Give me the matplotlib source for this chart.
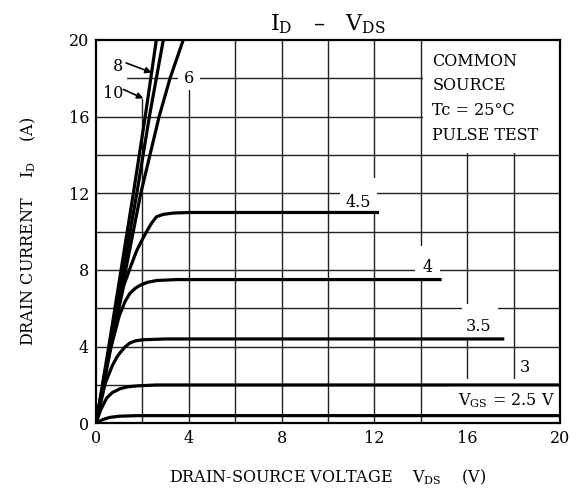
import matplotlib
matplotlib.use("Agg")
import matplotlib.pyplot as plt
from matplotlib.patches import Rectangle

plt.rcParams['font.family'] = ['DejaVu Serif']
plt.rcParams['mathtext.fontset'] = 'dejavuserif'

# I_D - V_DS curves (V_DS in V, I_D in A)
vds_10 = [0, 0.55, 1.08, 1.61, 2.12, 2.6, 2.75]
id_10 = [0, 4.0, 8.0, 12.0, 16.0, 20.0, 21.0]
vds_8 = [0, 0.6, 1.18, 1.76, 2.3, 2.9, 3.05]
id_8 = [0, 4.0, 8.0, 12.0, 16.0, 20.0, 21.0]
vds_6 = [0, 0.65, 1.28, 1.93, 2.72, 3.19, 3.76, 3.9]
id_6 = [0, 4.0, 8.0, 12.0, 16.0, 18.0, 20.0, 20.4]
vds_45 = [0, 0.6, 1.2, 1.5, 1.75, 2.0, 2.18, 2.4, 2.61, 2.9, 3.33, 4.05, 12.2]
id_45 = [0, 3.9, 7.2, 8.2, 9.0, 9.6, 10.0, 10.45, 10.78, 10.9, 10.97, 11.0, 11.0]
vds_4 = [0, 0.5, 1.0, 1.25, 1.46, 1.7, 1.9, 2.2, 2.61, 3.5, 14.9]
id_4 = [0, 3.3, 5.6, 6.35, 6.78, 7.05, 7.2, 7.35, 7.45, 7.5, 7.5]
vds_35 = [0, 0.4, 0.7, 0.9, 1.03, 1.25, 1.46, 1.7, 2.03, 3.0, 17.6]
id_35 = [0, 2.1, 3.0, 3.45, 3.67, 3.98, 4.19, 4.3, 4.36, 4.4, 4.4]
vds_3 = [0, 0.2, 0.46, 0.7, 1.03, 1.35, 1.75, 2.6, 20]
id_3 = [0, 0.7, 1.32, 1.6, 1.8, 1.9, 1.95, 2.0, 2.0]
vds_25 = [0, 0.3, 0.6, 1.0, 1.8, 20]
id_25 = [0, 0.2, 0.31, 0.37, 0.4, 0.4]

x_ticks = [0, 4, 8, 12, 16, 20]
y_ticks = [0, 4, 8, 12, 16, 20]
grid_pos = [2, 4, 6, 8, 10, 12, 14, 16, 18]

fig = plt.figure(figsize=(5.77, 4.93), dpi=100)
ax = fig.add_axes([0.1664, 0.1414, 0.8041, 0.7775])

for g in grid_pos:
    # the V=2 line stops under the "8"/"10" labels
    top = 16.9 / 20 if g == 2 else 1
    ax.axvline(g, ymax=top, color='#222222', lw=1.0, zorder=1)
    ax.axhline(g, color='#222222', lw=1.0, zorder=1)

# white areas where the grid is broken for the labels
gaps = [(14.08, 14.08, 5.92, 5.92), (0.05, 16.08, 1.29, 3.87),
        (3.53, 17.4, 0.95, 2.6), (10.5, 11.05, 1.6, 1.75),
        (13.75, 7.55, 1.08, 1.7), (15.76, 4.45, 1.58, 1.75),
        (15.2, 0.05, 4.75, 2.25)]
for x0, y0, w, h in gaps:
    ax.add_patch(Rectangle((x0, y0), w, h, facecolor='white',
                           edgecolor='none', zorder=2))

for xs, ys in [(vds_10, id_10), (vds_8, id_8), (vds_6, id_6),
               (vds_45, id_45), (vds_4, id_4), (vds_35, id_35),
               (vds_3, id_3), (vds_25, id_25)]:
    ax.plot(xs, ys, color='black', lw=2.3, solid_capstyle='butt',
            solid_joinstyle='round', zorder=3)

fs = 11.5
ax.text(0.95, 18.64, '8', fontsize=fs, ha='center', va='center', zorder=4)
ax.text(0.73, 17.23, '10', fontsize=fs, ha='center', va='center', zorder=4)
ax.annotate('', xy=(2.4, 18.3), xytext=(1.3, 18.8),
            arrowprops=dict(arrowstyle='-|>', color='black', lw=1.2,
                            mutation_scale=9, shrinkA=0, shrinkB=0), zorder=4)
ax.annotate('', xy=(2.04, 16.95), xytext=(1.18, 17.42),
            arrowprops=dict(arrowstyle='-|>', color='black', lw=1.2,
                            mutation_scale=9, shrinkA=0, shrinkB=0), zorder=4)
ax.text(4.0, 18.0, '6', fontsize=fs, ha='center', va='center', zorder=4)
ax.text(11.3, 11.5, '4.5', fontsize=fs, ha='center', va='center', zorder=4)
ax.text(14.3, 8.13, '4', fontsize=fs, ha='center', va='center', zorder=4)
ax.text(16.5, 5.05, '3.5', fontsize=fs, ha='center', va='center', zorder=4)
ax.text(18.5, 2.92, '3', fontsize=fs, ha='center', va='center', zorder=4)
ax.text(19.8, 1.2, r'V$_{\mathrm{GS}}$ = 2.5 V', fontsize=fs, ha='right',
        va='center', zorder=4)

for txt, yy in [('COMMON', 18.9), ('SOURCE', 17.6), ('Tc = 25°C', 16.3),
                ('PULSE TEST', 15.0)]:
    ax.text(14.5, yy, txt, fontsize=fs, ha='left', va='center', zorder=4)

ax.set_xlim(0, 20)
ax.set_ylim(0, 20)
ax.set_xticks(x_ticks)
ax.set_yticks(y_ticks)
ax.tick_params(length=0, labelsize=fs, pad=5)
for s in ax.spines.values():
    s.set_linewidth(1.6)

ax.set_xlabel(r'DRAIN-SOURCE VOLTAGE    V$_{\mathrm{DS}}$    (V)', fontsize=fs,
              labelpad=15)
ax.set_ylabel(r'DRAIN CURRENT    I$_{\mathrm{D}}$    (A)', fontsize=fs,
              labelpad=22)
ax.set_title(r'I$_{\mathrm{D}}$   –   V$_{\mathrm{DS}}$', fontsize=16, pad=7)

fig.savefig('out.png', dpi=100)
